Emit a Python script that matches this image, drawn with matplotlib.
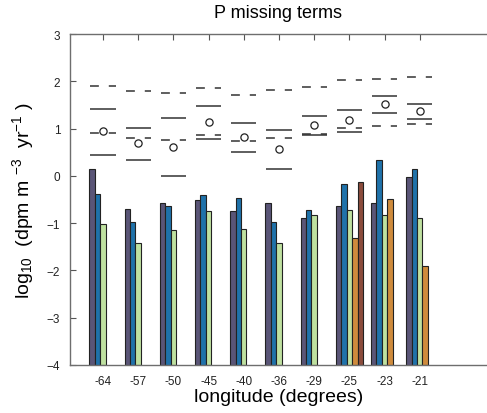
import numpy as np
import matplotlib
matplotlib.use("Agg")
import matplotlib.pyplot as plt

plt.rcParams['font.family'] = ['Liberation Sans', 'DejaVu Sans']
plt.rcParams['mathtext.default'] = 'regular'

# data (log10 dpm m-3 yr-1)
longitudes = ['-64', '-57', '-50', '-45', '-40', '-36', '-29', '-25', '-23', '-21']

# bar series (bars start from the -4 baseline)
bar_purple = [0.14, -0.70, -0.58, -0.52, -0.75, -0.57, -0.89, -0.64, -0.57, -0.03]
bar_blue = [-0.39, -0.98, -0.63, -0.41, -0.46, -0.98, -0.73, -0.18, 0.33, 0.14]
bar_green = [-1.02, -1.43, -1.15, -0.75, -1.12, -1.43, -0.83, -0.73, -0.82, -0.90]
bar_orange = [np.nan] * 7 + [-1.32, -0.48, -1.90]
bar_brown = [np.nan] * 7 + [-0.14, np.nan, np.nan]

# horizontal markers above the bars
dash_hi = [1.91, 1.80, 1.76, 1.85, 1.72, 1.81, 1.87, 2.03, 2.05, 2.09]
dash_lo = [0.91, 0.81, 0.76, 0.86, 0.73, 0.80, 0.88, 1.02, 1.05, 1.10]
solid_hi = [1.41, 1.02, 1.23, 1.48, 1.12, 0.97, 1.26, 1.40, 1.69, 1.51]
solid_lo = [0.445, 0.34, 0.00, 0.78, 0.51, 0.15, 0.87, 0.93, 1.33, 1.21]
circles = [0.94, 0.69, 0.61, 1.14, 0.83, 0.57, 1.08, 1.18, 1.52, 1.37]

series = [bar_purple, bar_blue, bar_green, bar_orange, bar_brown]
colors = ['#5a5577', '#1f72aa', '#bfe1a0', '#cf8b3c', '#8b4c3c']

fig = plt.figure(figsize=(4.87, 4.14), dpi=100)
ax = fig.add_axes([70 / 487, 48 / 414, 1 - 70 / 487, 331 / 414])

x = np.arange(1, len(longitudes) + 1)
base = -4
w = 0.154
for j, (vals, c) in enumerate(zip(series, colors)):
    vals = np.array(vals)
    ax.bar(x + (j - 2) * w, vals - base, bottom=base, width=w,
           color=c, edgecolor='#222222', linewidth=0.8, zorder=2)

half = 0.36
dash_style = (0, (5.8, 6.5))
ax.hlines(dash_hi, x - half, x + half, colors='#333333', linewidth=1.1,
          linestyles=[dash_style], zorder=3)
ax.hlines(dash_lo, x - half, x + half, colors='#333333', linewidth=1.1,
          linestyles=[dash_style], zorder=3)
ax.hlines(solid_hi, x - half, x + half, colors='#333333', linewidth=1.1, zorder=3)
ax.hlines(solid_lo, x - half, x + half, colors='#333333', linewidth=1.1, zorder=3)
ax.plot(x, circles, 'o', markerfacecolor='white', markeredgecolor='#222222',
        markersize=5.2, markeredgewidth=0.9, zorder=4)

ax.set_xlim(0.0625, 11.91)
ax.set_ylim(-4, 3)
ax.set_xticks(x)
ax.set_xticklabels(longitudes)
ax.set_yticks(range(-4, 4))
ax.tick_params(direction='in', top=True, length=4, width=0.8, colors='#555555',
               labelcolor='#222222', labelsize=8.5, pad=7)
for s in ['left', 'top', 'bottom']:
    ax.spines[s].set_color('#6e6e6e')
    ax.spines[s].set_linewidth(1.0)
ax.spines['right'].set_visible(False)

ax.set_title('P missing terms', fontsize=13, pad=12)
ax.set_xlabel('longitude (degrees)', fontsize=14, labelpad=1)
ax.set_ylabel(r'log$_{10}$  (dpm m $^{-3}$  yr$^{-1}$ )', fontsize=14, labelpad=8)

fig.savefig('out.png', dpi=100)
